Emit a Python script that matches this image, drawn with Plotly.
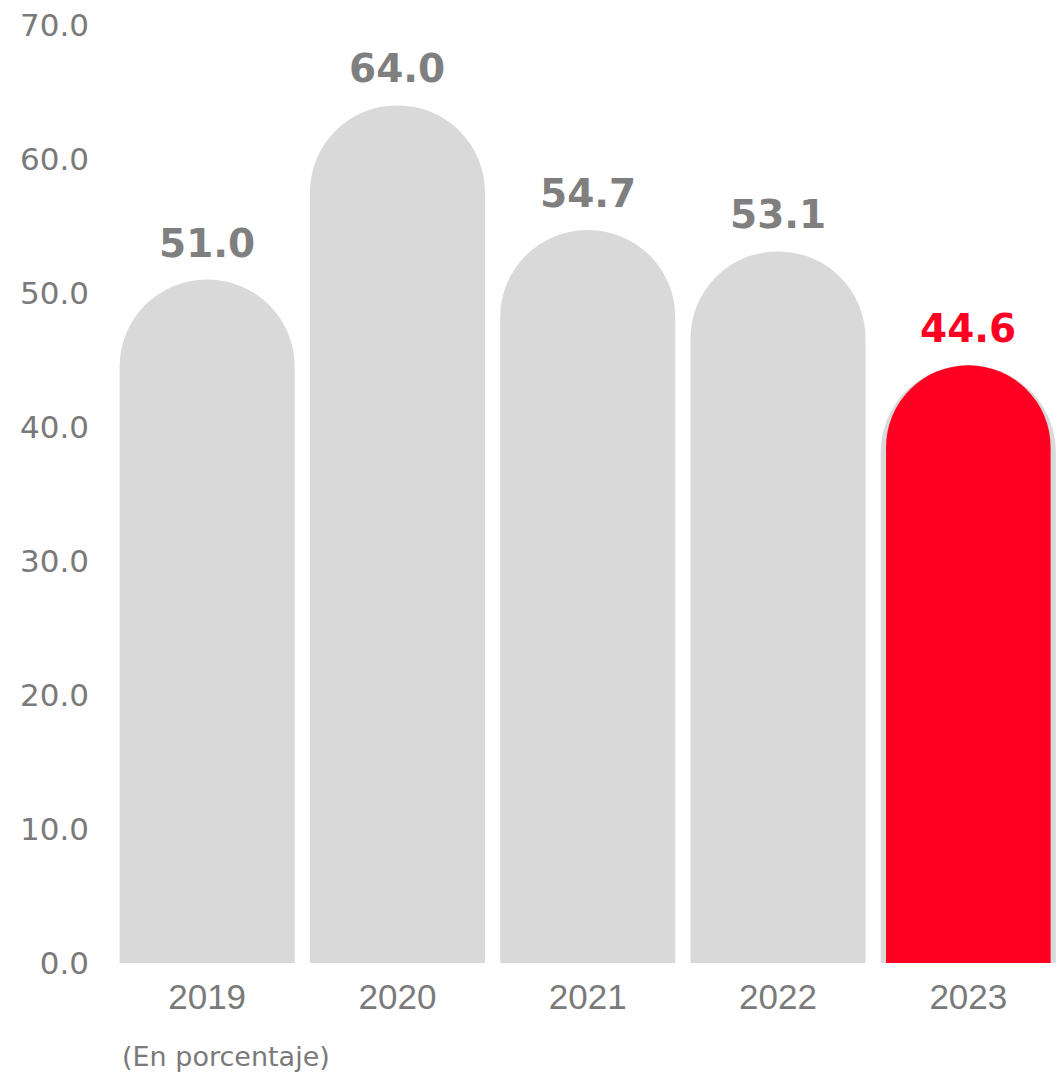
import plotly.graph_objects as go

# Annual values (percent)
years = ["2019", "2020", "2021", "2022", "2023"]
values = [51.0, 64.0, 54.7, 53.1, 44.6]
highlight_year = "2023"
highlight_value = 44.6
y_ticks = [0, 10, 20, 30, 40, 50, 60, 70]

GRAY_BAR = "#d9d9d9"
RED = "#ff0022"
LABEL_GRAY = "#7f7f7f"
TICK_GRAY = "#7a7a7a"

fig = go.Figure()

# Rounded gray columns for every year
fig.add_trace(go.Bar(
    x=years, y=values,
    width=0.92,
    marker=dict(color=GRAY_BAR, cornerradius="50%", line=dict(width=0)),
    hoverinfo="skip",
))

# Highlighted latest year drawn on top
fig.add_trace(go.Bar(
    x=[highlight_year], y=[highlight_value],
    width=0.865,
    marker=dict(color=RED, cornerradius="50%", line=dict(width=0)),
    hoverinfo="skip",
))

# Value labels above the columns (category index positions)
for i, (yr, v) in enumerate(zip(years, values)):
    fig.add_annotation(
        x=i, y=v, xref="x", yref="y",
        text=f"<b>{v:.1f}</b>",
        showarrow=False, yanchor="bottom", yshift=12,
        font=dict(family="DejaVu Sans", size=39,
                  color=RED if yr == highlight_year else LABEL_GRAY),
    )

fig.add_annotation(
    x=0.0085, y=-0.1, xref="paper", yref="paper",
    text="(En porcentaje)", showarrow=False,
    xanchor="left", yanchor="middle",
    font=dict(family="DejaVu Sans", size=27, color=TICK_GRAY),
)

fig.update_layout(
    width=1057, height=1075,
    margin=dict(l=112, r=0, t=25, b=112),
    barmode="overlay",
    showlegend=False,
    plot_bgcolor="white", paper_bgcolor="white",
    xaxis=dict(
        type="category", range=[-0.5, 4.466],
        showgrid=False, zeroline=False, showline=False,
        ticks="", ticklabelstandoff=10,
        tickfont=dict(family="Liberation Sans", size=35, color=TICK_GRAY),
    ),
    yaxis=dict(
        range=[0, 70], tickvals=y_ticks, tickformat=".1f",
        showgrid=False, zeroline=False, showline=False,
        ticks="", ticklabelstandoff=22,
        tickfont=dict(family="DejaVu Sans", size=31, color=TICK_GRAY),
    ),
)

fig.write_html("out.html")
